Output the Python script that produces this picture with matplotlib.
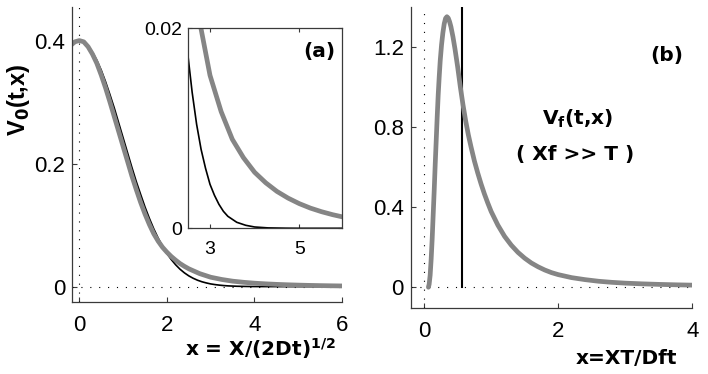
"""Recreate the two-panel V0 / Vf profile figure."""

import matplotlib
matplotlib.use("Agg")
import matplotlib.pyplot as plt

plt.rcParams["font.family"] = ["Liberation Sans", "DejaVu Sans"]

# panel (a): main curves, x = X/(2Dt)^(1/2)
xa_black = [-0.2, -0.1, 0.0, 0.1, 0.2, 0.3, 0.4, 0.5, 0.6, 0.7, 0.8, 0.9, 1.0, 1.1,
            1.2, 1.3, 1.4, 1.5, 1.6, 1.7, 1.8, 1.9, 2.0, 2.1, 2.2, 2.3, 2.4, 2.5,
            2.6, 2.7, 2.8, 2.9, 3.0, 3.1, 3.2, 3.3, 3.4, 3.5, 3.6, 3.8, 4.0, 4.3,
            4.7, 5.0, 6.0]
va_black = [0.391, 0.397, 0.399, 0.397, 0.391, 0.381, 0.368, 0.352, 0.333, 0.312,
            0.290, 0.266, 0.242, 0.218, 0.194, 0.171, 0.150, 0.1295, 0.111, 0.094,
            0.079, 0.0656, 0.054, 0.044, 0.0355, 0.0283, 0.0224, 0.0175, 0.0136,
            0.0104, 0.0079, 0.0060, 0.0044, 0.0033, 0.0024, 0.0017, 0.0012,
            0.0009, 0.0006, 0.0003, 0.00013, 0.00004, 0.00001, 0.0, 0.0]

xa_gray = [-0.2, -0.1, 0.0, 0.1, 0.2, 0.3, 0.4, 0.5, 0.6, 0.7, 0.8, 0.9, 1.0, 1.1,
           1.2, 1.3, 1.4, 1.5, 1.6, 1.7, 1.8, 1.9, 2.0, 2.1, 2.2, 2.3, 2.4, 2.5,
           2.75, 3.0, 3.25, 3.5, 3.75, 4.0, 4.25, 4.5, 4.75, 5.0, 5.25, 5.5,
           5.75, 6.0]
va_gray = [0.392, 0.398, 0.400, 0.398, 0.390, 0.378, 0.363, 0.344, 0.323, 0.300,
           0.276, 0.252, 0.228, 0.204, 0.180, 0.158, 0.137, 0.118, 0.101, 0.086,
           0.074, 0.064, 0.056, 0.049, 0.043, 0.0375, 0.033, 0.029, 0.0211,
           0.0153, 0.01167, 0.0089, 0.00706, 0.0056, 0.00455, 0.00369, 0.00302,
           0.00247, 0.00202, 0.00166, 0.00136, 0.00111]

# panel (b): x = XT/Dft
xb_gray = [0.064, 0.075, 0.09, 0.105, 0.12, 0.135, 0.15, 0.165, 0.18, 0.195, 0.21,
           0.225, 0.24, 0.26, 0.28, 0.30, 0.32, 0.34, 0.36, 0.38, 0.40, 0.43, 0.46,
           0.50, 0.54, 0.58, 0.62, 0.66, 0.70, 0.75, 0.80, 0.85, 0.90, 0.95, 1.0,
           1.1, 1.2, 1.3, 1.4, 1.5, 1.6, 1.7, 1.8, 1.9, 2.0, 2.2, 2.4, 2.6, 2.8,
           3.0, 3.25, 3.5, 3.75, 4.0]
vb_gray = [0.0, 0.015, 0.06, 0.14, 0.24, 0.36, 0.48, 0.61, 0.73, 0.85, 0.96, 1.05,
           1.13, 1.21, 1.27, 1.315, 1.342, 1.35, 1.343, 1.325, 1.30, 1.25, 1.19,
           1.10, 1.00, 0.91, 0.83, 0.76, 0.70, 0.63, 0.57, 0.515, 0.465, 0.42,
           0.378, 0.31, 0.254, 0.21, 0.174, 0.145, 0.121, 0.102, 0.086, 0.073,
           0.063, 0.048, 0.038, 0.030, 0.0245, 0.0205, 0.017, 0.0143, 0.0122,
           0.0105]
xb_line = 0.562

GRAY = "#858585"
SPINE = "#3a3a3a"
DOTS = (0, (1, 7))
W, H = 708, 374


def style_main(ax):
    for side in ("top", "right"):
        ax.spines[side].set_visible(False)
    for side in ("left", "bottom"):
        ax.spines[side].set_color(SPINE)
        ax.spines[side].set_linewidth(0.9)
    ax.tick_params(direction="in", length=3.5, width=0.8, color=SPINE,
                   labelsize=16, pad=5)
    ax.tick_params(axis="x", pad=9)


def ftext(x, y, s, **kw):
    fig.text(x / W, 1 - y / H, s, **kw)


fig = plt.figure(figsize=(7.08, 3.74), dpi=100)

# ---- panel (a)
ax1 = fig.add_axes([0.1017, 0.1925, 0.3814, 0.7895])
ax1.axvline(0, color="black", lw=0.8, linestyle=DOTS)
ax1.axhline(0, color="black", lw=0.8, linestyle=DOTS)
ax1.plot(xa_black, va_black, color="black", lw=1.2)
ax1.plot(xa_gray, va_gray, color=GRAY, lw=3.4, solid_capstyle="round",
         solid_joinstyle="round")
ax1.set_xlim(-0.167, 6)
ax1.set_ylim(-0.025, 0.455)
ax1.set_xticks([0, 2, 4, 6])
ax1.set_yticks([0, 0.2, 0.4])
ax1.set_yticklabels(["0", "0.2", "0.4"])
style_main(ax1)

ins = fig.add_axes([0.2651, 0.3896, 0.2180, 0.5347])
ins.plot(xa_black, va_black, color="black", lw=1.2)
ins.plot(xa_gray, va_gray, color=GRAY, lw=3.4, solid_joinstyle="round")
ins.set_xlim(2.5, 5.96)
ins.set_ylim(0, 0.02)
ins.set_xticks([3, 5])
ins.set_yticks([0, 0.02])
ins.set_yticklabels(["0", "0.02"])
for s in ins.spines.values():
    s.set_color(SPINE)
    s.set_linewidth(0.9)
ins.tick_params(direction="in", length=3, width=0.8, color=SPINE, labelsize=14,
                top=True, right=True, pad=4)
ins.tick_params(axis="x", pad=9)

# ---- panel (b)
ax2 = fig.add_axes([0.5801, 0.1757, 0.3977, 0.8064])
ax2.axvline(0, color="black", lw=0.8, linestyle=DOTS)
ax2.axhline(0, color="black", lw=0.8, linestyle=DOTS)
ax2.plot([xb_line, xb_line], [0, 1.4], color="black", lw=1.5)
ax2.plot(xb_gray, vb_gray, color=GRAY, lw=3.4, solid_capstyle="round",
         solid_joinstyle="round")
ax2.set_xlim(-0.2, 4)
ax2.set_ylim(-0.105, 1.4)
ax2.set_xticks([0, 2, 4])
ax2.set_yticks([0, 0.4, 0.8, 1.2])
ax2.set_yticklabels(["0", "0.4", "0.8", "1.2"])
style_main(ax2)

# ---- labels and annotations
bold = dict(family="DejaVu Sans", weight="bold", fontsize=14.5)
ftext(18, 100, r"V$_{\mathbf{0}}$(t,x)", family="Liberation Sans", weight="bold",
      fontsize=17, rotation=90, ha="center", va="center")
ftext(260, 356, r"x = X/(2Dt)$^{\mathbf{1/2}}$", ha="center", va="baseline", **bold)
ftext(626, 364, "x=XT/Dft", ha="center", va="baseline", **bold)
ftext(319, 51, "(a)", ha="center", va="center", **bold)
ftext(667, 55, "(b)", ha="center", va="center", **bold)
ftext(578, 125, r"V$_{\mathbf{f}}$(t,x)", ha="center", va="baseline", **bold)
ftext(575, 160, "( Xf >> T )", ha="center", va="baseline", **bold)

fig.savefig("out.png", dpi=100)
